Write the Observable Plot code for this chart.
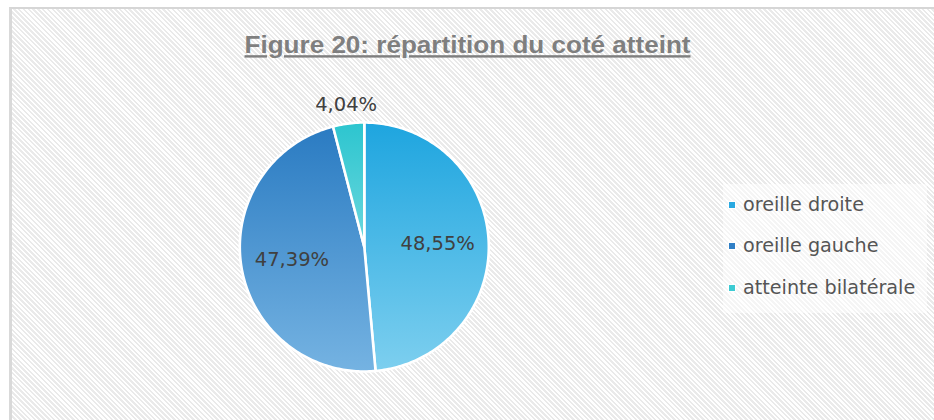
<!DOCTYPE html>
<html>
<head>
<meta charset="utf-8">
<script src="https://cdn.jsdelivr.net/npm/d3@7"></script>
<script src="https://cdn.jsdelivr.net/npm/@observablehq/plot@0.6"></script>
<style>
  html, body { margin: 0; padding: 0; background: #fff; }
  #wrap { position: relative; width: 934px; height: 420px; overflow: hidden; }
  #frame {
    position: absolute; left: 9px; top: 7px; width: 940px; height: 420px;
    border-top: 2px solid #d6d6d6; border-left: 3px solid #d9d9d9;
    background-color: #f1f1f1;
    background-image: repeating-linear-gradient(45deg, #ffffff 0px, #ffffff 1.6px, #eaeaea 1.6px, #eaeaea 3.4px);
  }
  #legend {
    position: absolute; left: 723px; top: 184px; width: 204px; height: 129px;
    background: rgba(255,255,255,0.5);
    font-family: "DejaVu Sans", sans-serif; font-size: 19.2px; color: #555555;
  }
  .item { position: absolute; left: 0; height: 24px; line-height: 24px; white-space: nowrap; }
  .sw { position: absolute; left: 5px; top: 8px; width: 6px; height: 6px; border: 1px solid #fff; }
  .lab { position: absolute; left: 20px; top: 0; }
  #chart { position: absolute; left: 0; top: 0; }
</style>
</head>
<body>
<div id="wrap">
  <div id="frame"></div>
  <div id="chart"></div>
  <div id="legend"></div>
</div>
<svg width="0" height="0" style="position:absolute">
  <defs id="grads"></defs>
</svg>
<script>
// ---- data ----
const title = "Figure 20: répartition du coté atteint";
const categories = ["oreille droite", "oreille gauche", "atteinte bilatérale"];
const values = [48.55, 47.39, 4.04];
const labels = ["48,55%", "47,39%", "4,04%"];

// ---- styles ----
const gradTop = ["#1ea5df", "#2a7bc2", "#2cc5cf"];
const gradBottom = ["#7dcfef", "#75b3e2", "#6dd8de"];
const legendColors = ["#29a9e1", "#2f7fc6", "#3dcbd3"];

const W = 934, H = 420, cx = 363.8, cy = 246.5, R = 124.5;

// gradients
const defs = d3.select("#grads");
categories.forEach((c, i) => {
  const g = defs.append("linearGradient").attr("id", "g" + i)
    .attr("x1", 0).attr("y1", 0).attr("x2", 0).attr("y2", 1);
  g.append("stop").attr("offset", "0%").attr("stop-color", gradTop[i]);
  g.append("stop").attr("offset", "100%").attr("stop-color", gradBottom[i]);
});

// pie geometry in unit-radius coordinates (y up)
const arcs = d3.pie().sort(null).value(d => d)(values);
const slices = arcs.map((a, i) => {
  const pts = [{x: 0, y: 0}];
  const n = Math.max(2, Math.ceil((a.endAngle - a.startAngle) / (Math.PI / 180)));
  for (let k = 0; k <= n; k++) {
    const t = a.startAngle + (a.endAngle - a.startAngle) * k / n;
    pts.push({x: Math.sin(t), y: Math.cos(t)});
  }
  pts.push({x: 0, y: 0});
  return pts;
});
const labelData = arcs.map((a, i) => {
  const m = (a.startAngle + a.endAngle) / 2;
  const k = values[i] < 10 ? 1.155 : 0.59;
  return {x: k * Math.sin(m), y: k * Math.cos(m), text: labels[i]};
});

const font = "DejaVu Sans, sans-serif";

const plot = Plot.plot({
  width: W, height: H,
  margin: 0,
  x: {domain: [-cx / R, (W - cx) / R], axis: null},
  y: {domain: [-(H - cy) / R, cy / R], axis: null},
  style: {background: "transparent", overflow: "visible"},
  marks: [
    ...slices.map((pts, i) => Plot.line(pts, {
      x: "x", y: "y", fill: `url(#g${i})`, stroke: "white", strokeWidth: 2.6,
      strokeLinejoin: "round", curve: "linear"
    })),
    Plot.text(labelData, {
      x: "x", y: "y", text: "text", fontSize: 19.5, fill: "#404040",
      fontFamily: font
    }),
    Plot.text([title], {
      frameAnchor: "top", dy: 45, text: d => d, fontSize: 24, fontWeight: "bold",
      fill: "#7f7f7f", fontFamily: "Liberation Sans, Arial, sans-serif", lineAnchor: "middle"
    })
  ]
});
document.getElementById("chart").appendChild(plot);

d3.select(plot).selectAll("text").filter(function() { return this.textContent === title; })
  .attr("text-decoration", "underline")
  .attr("textLength", 446)
  .attr("lengthAdjust", "spacingAndGlyphs");

// legend
const legend = d3.select("#legend");
const rowTops = [9, 50, 92];
categories.forEach((c, i) => {
  const it = legend.append("div").attr("class", "item").style("top", rowTops[i] + "px");
  it.append("div").attr("class", "sw").style("background", legendColors[i]);
  it.append("div").attr("class", "lab").text(c);
});
</script>
</body>
</html>
